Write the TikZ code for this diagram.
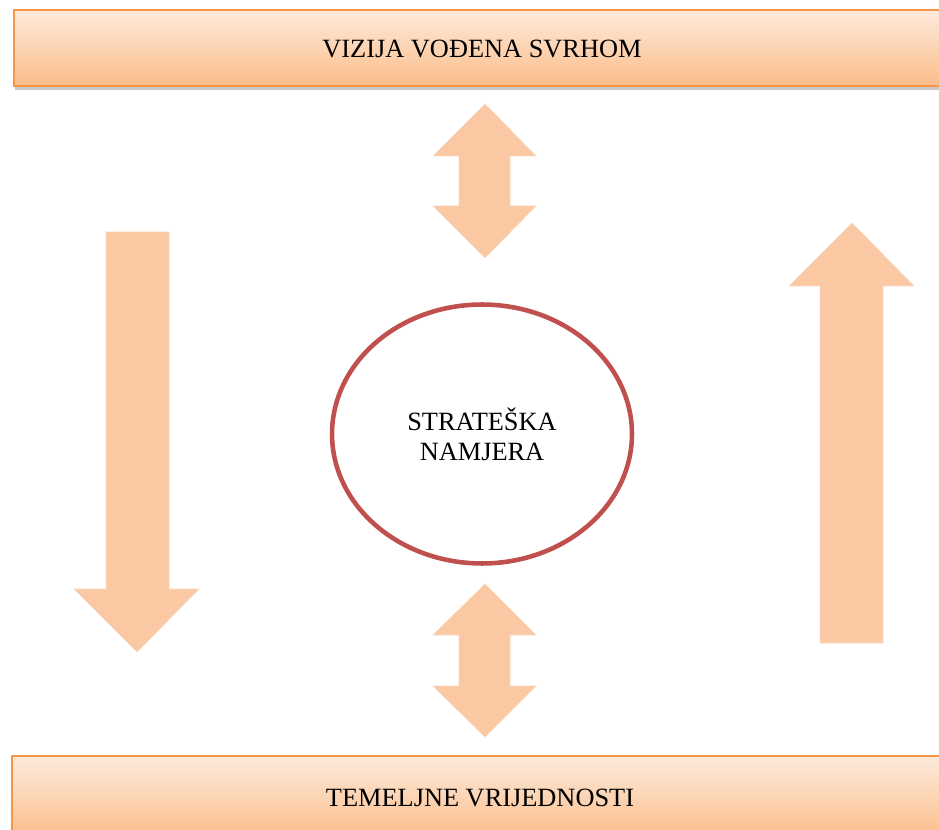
\documentclass[tikz,border=0pt]{standalone}
\usepackage{fontspec}
\setmainfont{Liberation Serif}
\usetikzlibrary{shadows,shapes.geometric}
\definecolor{barline}{HTML}{F79646}
\definecolor{bartop}{HTML}{FDEADB}
\definecolor{barbottom}{HTML}{FBBD8A}
\definecolor{arrowfill}{HTML}{FAC9A3}
\definecolor{ringred}{HTML}{C0504D}
\begin{document}
\begin{tikzpicture}[x=0.02cm, y=-0.02cm, thick,
	bar/.style={draw=barline, line width=1.1pt, top color=bartop, bottom color=barbottom,
		drop shadow={shadow xshift=0.8pt, shadow yshift=-2.4pt, opacity=0.3, fill=black!70}},
	label/.style={font=\fontsize{15}{17}\selectfont},
	blockarrow/.style={fill=arrowfill, draw=arrowfill!70!white, line width=0.4pt}]
			\useasboundingbox (0, 0) rectangle (939, 830);
			\clip (0, 0) rectangle (939, 830);
			\draw[bar] (14, 10) rectangle (962, 86);
			\draw[bar] (12, 756) rectangle (962, 840);
			\node[label] (vision) at (482, 49) {VIZIJA VOĐENA SVRHOM};
			\node[label] (values) at (480, 798) {TEMELJNE VRIJEDNOSTI};
			
			\node[label, ellipse, draw=ringred, line width=2.6pt, minimum width=6.0cm, minimum height=5.18cm,
				align=center, inner sep=0pt] (intent) at (482, 434) {STRATEŠKA\\NAMJERA};
			
			\draw[blockarrow] (485, 104) -- (536, 156) -- (510, 156) -- (510, 206) -- (536, 206) -- (485, 258)
				-- (433, 206) -- (459, 206) -- (459, 156) -- (433, 156) -- cycle;
			\draw[blockarrow] (485, 584) -- (536, 635) -- (510, 635) -- (510, 686) -- (536, 686) -- (485, 737)
				-- (433, 686) -- (459, 686) -- (459, 635) -- (433, 635) -- cycle;
			\draw[blockarrow] (106, 232) -- (169, 232) -- (169, 589) -- (199, 589) -- (137, 652) -- (74, 589)
				-- (106, 589) -- cycle;
			\draw[blockarrow] (852, 223) -- (914, 286) -- (883, 286) -- (883, 643) -- (820, 643) -- (820, 286)
				-- (789, 286) -- cycle;
		\end{tikzpicture}
\end{document}
